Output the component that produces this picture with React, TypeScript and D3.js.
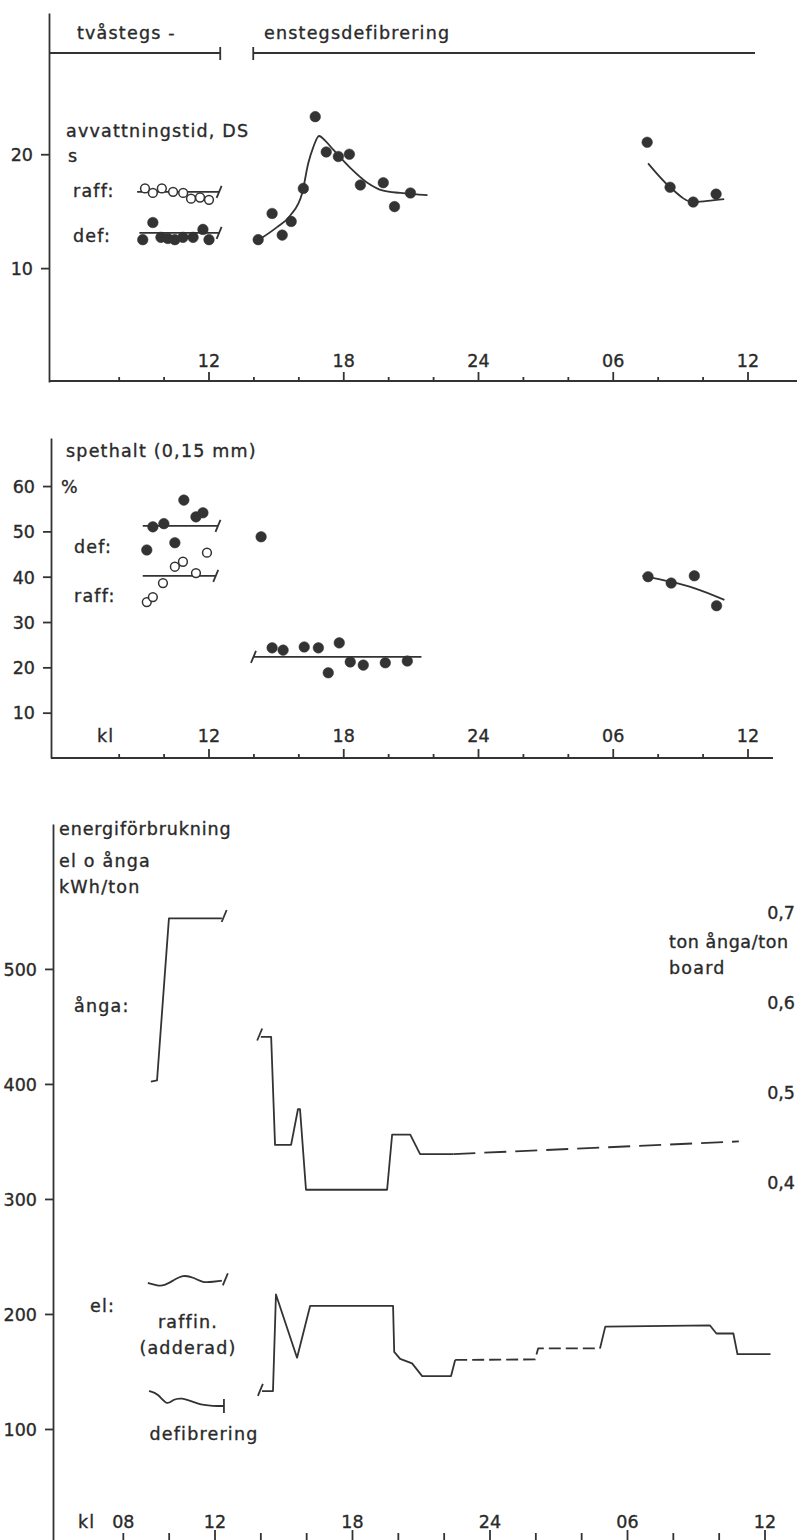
import React, { useEffect, useRef } from 'react';
import * as d3 from 'd3';

// klockslag i timmar räknat från kl 00 dag 1 (30 = kl 06, 36 = kl 12 dag 2)
const hourTicks = [8, 10, 12, 14, 16, 18, 20, 22, 24, 26, 28, 30, 32, 34, 36];
const hourLabels = [12, 18, 24, 30, 36];
const hourLabelText = ['12', '18', '24', '06', '12'];

// --- avvattningstid, DS (s)
const avvTicks = [10, 20];
const avvRaffH = [9.15, 9.5, 9.9, 10.4, 10.85, 11.2, 11.6, 12.0];
const avvRaffV = [17.0, 16.6, 17.0, 16.7, 16.6, 16.1, 16.2, 16.0];
const avvDefH = [9.05, 9.5, 9.86, 10.17, 10.48, 10.84, 11.29, 11.73, 12.0];
const avvDefV = [12.5, 14.0, 12.7, 12.6, 12.5, 12.7, 12.7, 13.4, 12.5];
const avvRaffFitH = [8.8, 12.45];
const avvRaffFitV = [16.7, 16.7];
const avvDefFitH = [8.9, 12.45];
const avvDefFitV = [13.1, 13.1];
const avvEnH = [14.19, 14.81, 15.26, 15.66, 16.2, 16.73, 17.22, 17.76, 18.25, 18.74, 19.76, 20.26, 20.97];
const avvEnV = [12.5, 14.8, 12.9, 14.1, 17.0, 23.3, 20.2, 19.8, 20.0, 17.3, 17.5, 15.4, 16.6];
const avvEnFitH = [14.23, 15.03, 15.61, 16.15, 16.42, 16.64, 16.9, 17.17, 17.53, 18.29, 19.05, 19.76, 20.52, 21.73];
const avvEnFitV = [12.5, 13.6, 14.6, 16.6, 19.2, 20.6, 21.6, 21.2, 20.4, 18.8, 17.5, 16.8, 16.6, 16.4];
const avvDagH = [31.51, 32.53, 33.56, 34.58];
const avvDagV = [21.05, 17.1, 15.8, 16.5];
const avvDagFitH = [31.55, 32.53, 33.56, 34.2, 34.94];
const avvDagFitV = [19.2, 17.1, 15.8, 15.9, 16.05];

// --- spethalt (0,15 mm) %
const spTicks = [10, 20, 30, 40, 50, 60];
const spDefH = [9.23, 9.5, 9.99, 10.48, 10.88, 11.42, 11.73];
const spDefV = [45.9, 51.0, 51.7, 47.5, 56.9, 53.2, 54.1];
const spRaffH = [9.23, 9.5, 9.95, 10.48, 10.84, 11.42, 11.91];
const spRaffV = [34.4, 35.5, 38.6, 42.2, 43.3, 40.8, 45.3];
const spDefFitH = [9.05, 12.4];
const spDefFitV = [51.2, 51.2];
const spRaffFitH = [9.05, 12.3];
const spRaffFitV = [40.2, 40.2];
const spEnH = [14.32, 14.81, 15.3, 16.24, 16.87, 17.31, 17.8, 18.29, 18.87, 19.85, 20.83];
const spEnV = [48.8, 24.3, 23.8, 24.5, 24.3, 18.8, 25.4, 21.2, 20.5, 21.0, 21.4];
const spEnFitH = [13.98, 21.46];
const spEnFitV = [22.3, 22.3];
const spDagH = [31.55, 32.58, 33.61, 34.6];
const spDagV = [40.0, 38.6, 40.2, 33.6];
const spDagFitH = [31.3, 32.55, 33.6, 34.95];
const spDagFitV = [40.2, 38.9, 37.5, 34.9];

// --- energiförbrukning kWh/ton
const enTicks = [100, 200, 300, 400, 500];
const angaTicks = [0.4, 0.5, 0.6, 0.7];
const angaTickText = ['0,4', '0,5', '0,6', '0,7'];
const angaTvaH = [9.2, 9.47, 9.99, 12.3];
const angaTvaV = [402, 403, 544, 544];
const angaEnH = [14.0, 14.45, 14.62, 15.32, 15.62, 15.71, 15.97, 19.51, 19.73, 20.52, 20.95, 22.4];
const angaEnV = [441, 441, 347, 347, 378, 378, 308, 308, 356, 356, 339, 339];
const angaStrH = [22.4, 34.86];
const angaStrV = [339, 350];
const raffinH = [9.07, 9.45, 9.73, 10.17, 10.6, 11.04, 11.48, 11.91, 12.3];
const raffinV = [227, 225, 224, 229, 234, 232, 227, 228, 229];
const defibH = [9.12, 9.51, 9.9, 10.17, 10.56, 11.0, 11.35, 11.91, 12.39];
const defibV = [133, 131, 120, 126, 127, 124, 121, 120, 120];
const elH1 = [14.05, 14.53, 14.66, 15.58, 16.15, 19.77, 19.82, 20.08, 20.6, 21.04, 22.3, 22.48];
const elV1 = [133, 133, 217, 162, 207, 207, 167, 161, 157, 146, 146, 160];
const elH2 = [22.48, 25.97, 26.1, 28.8];
const elV2 = [160, 160.5, 170, 170];
const elH3 = [28.8, 29.03, 33.6, 33.88, 34.62, 34.8, 36.24];
const elV3 = [170, 189, 190, 183, 183, 165, 165];

const ink = '#333';
const textInk = '#2a2a2a';
const font = '"DejaVu Sans", sans-serif';
const lw = 1.8;

const App = () => {
  const ref = useRef<SVGSVGElement>(null);

  useEffect(() => {
    const svg = d3.select(ref.current);
    svg.selectAll('*').remove();
    svg.attr('font-family', font);

    const xTop = d3.scaleLinear().domain([12, 36]).range([209, 748]);
    const x3 = d3.scaleLinear().domain([12, 36]).range([215, 765]);
    const y1 = d3.scaleLinear().domain([0, 32.4]).range([382, 13]);
    const y2 = d3.scaleLinear().domain([0, 70.6]).range([758, 438]);
    const y3 = d3.scaleLinear().domain([0, 626]).range([1544, 824]);
    const y3r = d3.scaleLinear().domain([0.4, 0.7]).range([1183, 913]);

    const text = (x, y, s, anchor = 'start', spacing = 1.2) =>
      svg.append('text')
        .attr('x', x).attr('y', y)
        .attr('text-anchor', anchor)
        .attr('font-size', 17.5)
        .attr('letter-spacing', spacing)
        .attr('fill', textInk)
        .attr('stroke', textInk)
        .attr('stroke-width', 0.35)
        .text(s);

    const seg = (x1, y1_, x2, y2_) =>
      svg.append('line')
        .attr('x1', x1).attr('y1', y1_).attr('x2', x2).attr('y2', y2_)
        .attr('stroke', ink).attr('stroke-width', lw);

    const path = (xs, ys, hs, vs, curve = d3.curveLinear, dash = null) => {
      const gen = d3.line<[number, number]>()
        .x((d) => xs(d[0]))
        .y((d) => ys(d[1]))
        .curve(curve);
      svg.append('path')
        .attr('d', gen(d3.zip(hs, vs) as [number, number][]))
        .attr('fill', 'none')
        .attr('stroke', ink)
        .attr('stroke-width', lw)
        .attr('stroke-linejoin', 'round')
        .attr('stroke-dasharray', dash);
    };

    // small break mark at the end of a fitted line
    const endMark = (px, py) => seg(px - 2.5, py + 6, px + 2.5, py - 6);

    const dots = (xs, ys, hs, vs, open = false) => {
      svg.append('g')
        .selectAll('circle')
        .data(d3.zip(hs, vs))
        .enter()
        .append('circle')
        .attr('cx', (d) => xs(d[0]))
        .attr('cy', (d) => ys(d[1]))
        .attr('r', open ? 4.4 : 5.3)
        .attr('fill', open ? 'white' : ink)
        .attr('stroke', ink)
        .attr('stroke-width', open ? 1.5 : 0.5);
    };

    const yAxis = (xPos, scale, ticks) => {
      const g = svg.append('g')
        .attr('transform', `translate(${xPos},0)`)
        .call(d3.axisLeft(scale).tickValues(ticks).tickSize(8).tickSizeOuter(0).tickPadding(8));
      g.selectAll('path, line').attr('stroke', ink).attr('stroke-width', lw);
      g.selectAll('text')
        .attr('font-size', 17.5)
        .attr('font-family', font)
        .attr('fill', textInk)
        .attr('stroke', textInk)
        .attr('stroke-width', 0.35)
        .attr('dy', '0.36em');
      g.attr('font-size', null).attr('font-family', null);
    };

    const xAxis = (xs, yPos, x0, x1, labelY, minor = 4, major = 9) => {
      seg(x0, yPos, x1, yPos);
      hourTicks.forEach((h) => {
        const big = hourLabels.includes(h);
        seg(xs(h), yPos, xs(h), yPos - (big ? major : minor));
      });
      hourLabels.forEach((h, i) => text(xs(h), labelY, hourLabelText[i], 'middle', 0));
    };

    // ---------- panel 1: avvattningstid
    yAxis(49, y1, avvTicks);
    xAxis(xTop, 381, 49, 797, 367);

    seg(49, 53, xTop(12.5), 53);
    seg(xTop(12.5), 47, xTop(12.5), 60);
    seg(xTop(13.97), 53, 755, 53);
    seg(xTop(13.97), 47, xTop(13.97), 60);
    text(77, 39, 'tvåstegs -');
    text(264, 39, 'enstegsdefibrering');

    text(66, 137, 'avvattningstid, DS');
    text(68, 162, 's');
    text(73, 197, 'raff:');
    text(73, 242, 'def:');

    path(xTop, y1, avvRaffFitH, avvRaffFitV);
    endMark(xTop(12.45), y1(16.7));
    path(xTop, y1, avvDefFitH, avvDefFitV);
    endMark(xTop(12.45), y1(13.1));
    dots(xTop, y1, avvRaffH, avvRaffV, true);
    dots(xTop, y1, avvDefH, avvDefV);

    path(xTop, y1, avvEnFitH, avvEnFitV, d3.curveMonotoneX);
    dots(xTop, y1, avvEnH, avvEnV);
    path(xTop, y1, avvDagFitH, avvDagFitV, d3.curveMonotoneX);
    dots(xTop, y1, avvDagH, avvDagV);

    // ---------- panel 2: spethalt
    yAxis(51, y2, spTicks);
    xAxis(xTop, 758, 51, 773, 742);
    text(66, 457, 'spethalt (0,15 mm)');
    text(61, 493, '%');
    text(74, 553, 'def:');
    text(74, 602, 'raff:');
    text(97, 742, 'kl');

    path(xTop, y2, spDefFitH, spDefFitV);
    endMark(xTop(12.4), y2(51.2));
    path(xTop, y2, spRaffFitH, spRaffFitV);
    endMark(xTop(12.3), y2(40.2));
    dots(xTop, y2, spDefH, spDefV);
    dots(xTop, y2, spRaffH, spRaffV, true);

    path(xTop, y2, spEnFitH, spEnFitV);
    endMark(xTop(13.98), y2(22.3));
    dots(xTop, y2, spEnH, spEnV);
    path(xTop, y2, spDagFitH, spDagFitV, d3.curveMonotoneX);
    dots(xTop, y2, spDagH, spDagV);

    // ---------- panel 3: energiförbrukning
    yAxis(53, y3, enTicks);
    xAxis(x3, 1543, 53, 790, 1528, 10, 13);
    text(78, 1528, 'kl');
    text(x3(8), 1528, '08', 'middle', 0);

    angaTicks.forEach((v, i) => text(795, y3r(v) + 6, angaTickText[i], 'end', 0));
    text(669, 948, 'ton ånga/ton', 'start', 0.6);
    text(669, 974, 'board');

    text(59, 835, 'energiförbrukning', 'start', 0.9);
    text(59, 867, 'el o ånga');
    text(59, 893, 'kWh/ton');
    text(74, 1012, 'ånga:');
    text(90, 1312, 'el:');
    text(188, 1328, 'raffin.', 'middle');
    text(188, 1354, '(adderad)', 'middle');
    text(204, 1440, 'defibrering', 'middle');

    path(x3, y3, angaTvaH, angaTvaV);
    endMark(x3(12.4), y3(546));
    path(x3, y3, angaEnH, angaEnV);
    endMark(x3(13.95), y3(443));
    path(x3, y3, angaStrH, angaStrV, d3.curveLinear, '22 9');

    path(x3, y3, raffinH, raffinV, d3.curveBasis);
    endMark(x3(12.45), y3(230));
    path(x3, y3, defibH, defibV, d3.curveBasis);
    seg(x3(12.39), y3(126), x3(12.39), y3(114));

    path(x3, y3, elH1, elV1);
    endMark(x3(13.98), y3(134));
    path(x3, y3, elH2, elV2, d3.curveLinear, '12 5');
    path(x3, y3, elH3, elV3);
  }, []);

  return (
    <svg
      ref={ref}
      width={800}
      height={1540}
      style={{ position: 'absolute', left: 0, top: 0, background: 'white' }}
    />
  );
};

export default App;
